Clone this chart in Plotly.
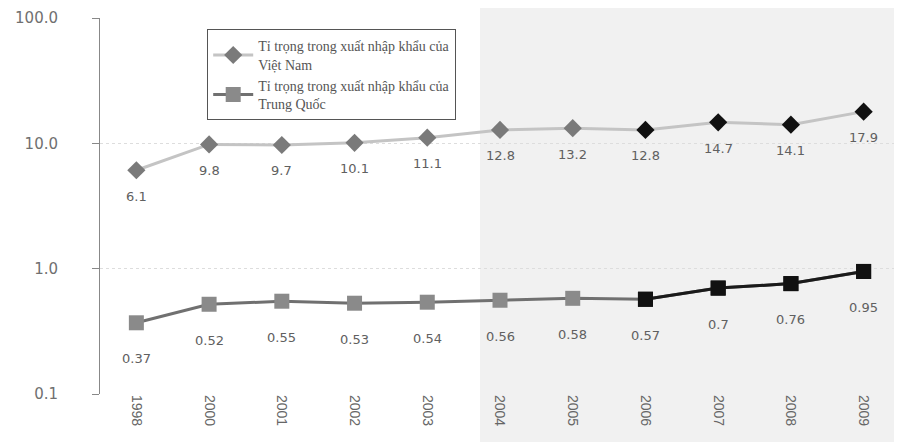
import math
import plotly.graph_objects as go

years = ["1998", "2000", "2001", "2002", "2003", "2004", "2005", "2006", "2007", "2008", "2009"]
vietnam = [6.1, 9.8, 9.7, 10.1, 11.1, 12.8, 13.2, 12.8, 14.7, 14.1, 17.9]
china = [0.37, 0.52, 0.55, 0.53, 0.54, 0.56, 0.58, 0.57, 0.7, 0.76, 0.95]
vn_labels = ["6.1", "9.8", "9.7", "10.1", "11.1", "12.8", "13.2", "12.8", "14.7", "14.1", "17.9"]
cn_labels = ["0.37", "0.52", "0.55", "0.53", "0.54", "0.56", "0.58", "0.57", "0.7", "0.76", "0.95"]
ytick_vals = [0.1, 1, 10, 100]
ytick_text = ["0.1", "1.0", "10.0", "100.0"]
name_vn = "Tỉ trọng trong xuất nhập khẩu của<br>Việt Nam"
name_cn = "Tỉ trọng trong xuất nhập khẩu của<br>Trung Quốc"

dark_from = 7  # points from 2006 onward printed darker
vn_colors = ["#7a7a7a" if i < dark_from else "#111111" for i in range(len(years))]
cn_colors = ["#8a8a8a" if i < dark_from else "#111111" for i in range(len(years))]

label_font = dict(family="DejaVu Sans, Arial", size=13, color="#606060")

fig = go.Figure()

fig.add_trace(go.Scatter(
    x=years, y=vietnam, name=name_vn, mode="lines+markers",
    line=dict(color="#c4c4c4", width=3),
    marker=dict(symbol="diamond", size=14, color=vn_colors),
))

fig.add_trace(go.Scatter(
    x=years, y=china, name=name_cn, mode="lines+markers",
    line=dict(color="#707070", width=3),
    marker=dict(symbol="square", size=15, color=cn_colors),
))

# darker later segment of the China line
fig.add_trace(go.Scatter(
    x=years[dark_from:], y=china[dark_from:], mode="lines+markers",
    line=dict(color="#1a1a1a", width=3),
    marker=dict(symbol="square", size=15, color=cn_colors[dark_from:]),
    showlegend=False, hoverinfo="skip",
))

annotations = []
for i, (v, t) in enumerate(zip(vietnam, vn_labels)):
    annotations.append(dict(x=i, y=math.log10(v), xref="x", yref="y", text=t,
                            showarrow=False, yshift=-26, font=label_font))
for i, (v, t) in enumerate(zip(china, cn_labels)):
    annotations.append(dict(x=i, y=math.log10(v), xref="x", yref="y", text=t,
                            showarrow=False, yshift=-36, font=label_font))

fig.update_layout(
    width=902, height=442,
    margin=dict(l=92, r=10, t=10, b=56, autoexpand=False),
    paper_bgcolor="white", plot_bgcolor="rgba(0,0,0,0)",
    showlegend=True,
    legend=dict(
        x=0.134, y=0.97, xanchor="left", yanchor="top",
        bgcolor="white", bordercolor="#555555", borderwidth=1,
        font=dict(family="Liberation Serif, Times New Roman", size=14, color="#555555"),
        itemwidth=40,
    ),
    annotations=annotations,
    shapes=[dict(type="rect", xref="paper", yref="paper", x0=0.475, x1=1.02, y0=-0.2, y1=1.04,
                 fillcolor="#f1f1f1", line=dict(width=0), layer="below")],
)

fig.update_xaxes(
    type="category", range=[-0.5, 10.5], automargin=False,
    showline=False, showgrid=False, ticks="",
    tickangle=90, ticklabeloverflow="allow",
    tickfont=dict(family="Liberation Sans, Arial", size=14, color="#666666"),
)

fig.update_yaxes(
    type="log", range=[-1, 2], automargin=False,
    tickvals=ytick_vals, ticktext=ytick_text,
    showline=True, linecolor="#888888", linewidth=1,
    ticks="outside", ticklen=7, tickcolor="#888888",
    ticklabelstandoff=31, ticklabeloverflow="allow",
    showgrid=True, gridcolor="#dddddd", griddash="dot", gridwidth=1,
    zeroline=False,
    tickfont=dict(family="DejaVu Sans, Arial", size=15, color="#707070"),
)

fig.write_html("out.html")
